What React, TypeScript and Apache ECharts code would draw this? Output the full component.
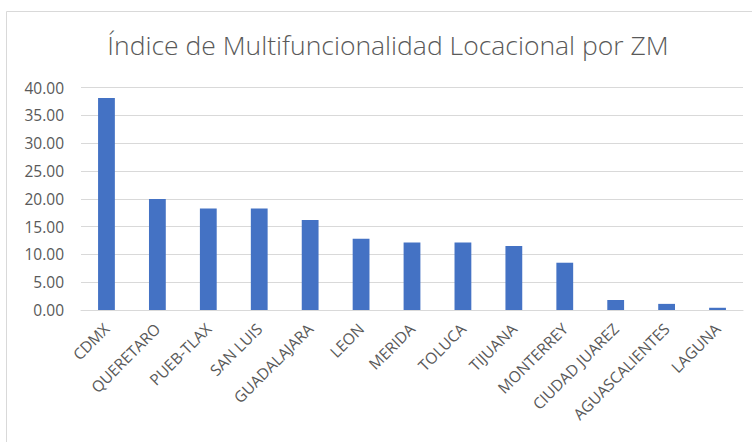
import React, { useEffect, useRef } from "react";
import * as echarts from "echarts";

const categories = [
  "CDMX",
  "QUERETARO",
  "PUEB-TLAX",
  "SAN LUIS",
  "GUADALAJARA",
  "LEON",
  "MERIDA",
  "TOLUCA",
  "TIJUANA",
  "MONTERREY",
  "CIUDAD JUAREZ",
  "AGUASCALIENTES",
  "LAGUNA",
];
const values = [38.1, 19.95, 18.25, 18.25, 16.2, 12.8, 12.15, 12.15, 11.5, 8.5, 1.8, 1.1, 0.4];
const titleText = "Índice de Multifuncionalidad Locacional por ZM";

export default function App() {
  const ref = useRef<HTMLDivElement>(null);
  useEffect(() => {
    if (!ref.current) return;
    const chart = echarts.init(ref.current, undefined, { renderer: "svg" });
    chart.setOption({
      animation: false,
      backgroundColor: "#ffffff",
      title: {
        text: titleText,
        left: 383,
        top: 26,
        textAlign: "center",
        textStyle: {
          fontFamily: "Open Sans",
          fontWeight: 300,
          fontSize: 26.5,
          color: "#595959",
        },
      },
      graphic: [
        {
          type: "rect",
          shape: { x: 6.5, y: 11.5, width: 800, height: 500 },
          style: { fill: "none", stroke: "#d9d9d9", lineWidth: 1 },
          silent: true,
          z: -1,
        },
      ],
      grid: { left: 81, right: 9, top: 87.5, bottom: 132, containLabel: false },
      xAxis: {
        type: "category",
        data: categories,
        axisLine: { lineStyle: { color: "#d9d9d9", width: 1 } },
        axisTick: { show: false },
        axisLabel: {
          interval: 0,
          rotate: 45,
          margin: 16,
          color: "#595959",
          fontFamily: "Open Sans",
          fontSize: 15.5,
        },
      },
      yAxis: {
        type: "value",
        min: 0,
        max: 40,
        interval: 5,
        axisLine: { show: false },
        axisTick: { show: false },
        splitLine: { lineStyle: { color: "#d9d9d9", width: 1 } },
        axisLabel: {
          formatter: (v: number) => v.toFixed(2),
          color: "#595959",
          fontFamily: "Open Sans",
          fontSize: 15.5,
          margin: 17,
        },
      },
      series: [
        {
          type: "bar",
          data: values,
          barWidth: "33%",
          itemStyle: { color: "#4472c4" },
        },
      ],
    });
    return () => chart.dispose();
  }, []);
  return <div ref={ref} style={{ width: 752, height: 442, position: "absolute", left: 0, top: 0 }} />;
}
